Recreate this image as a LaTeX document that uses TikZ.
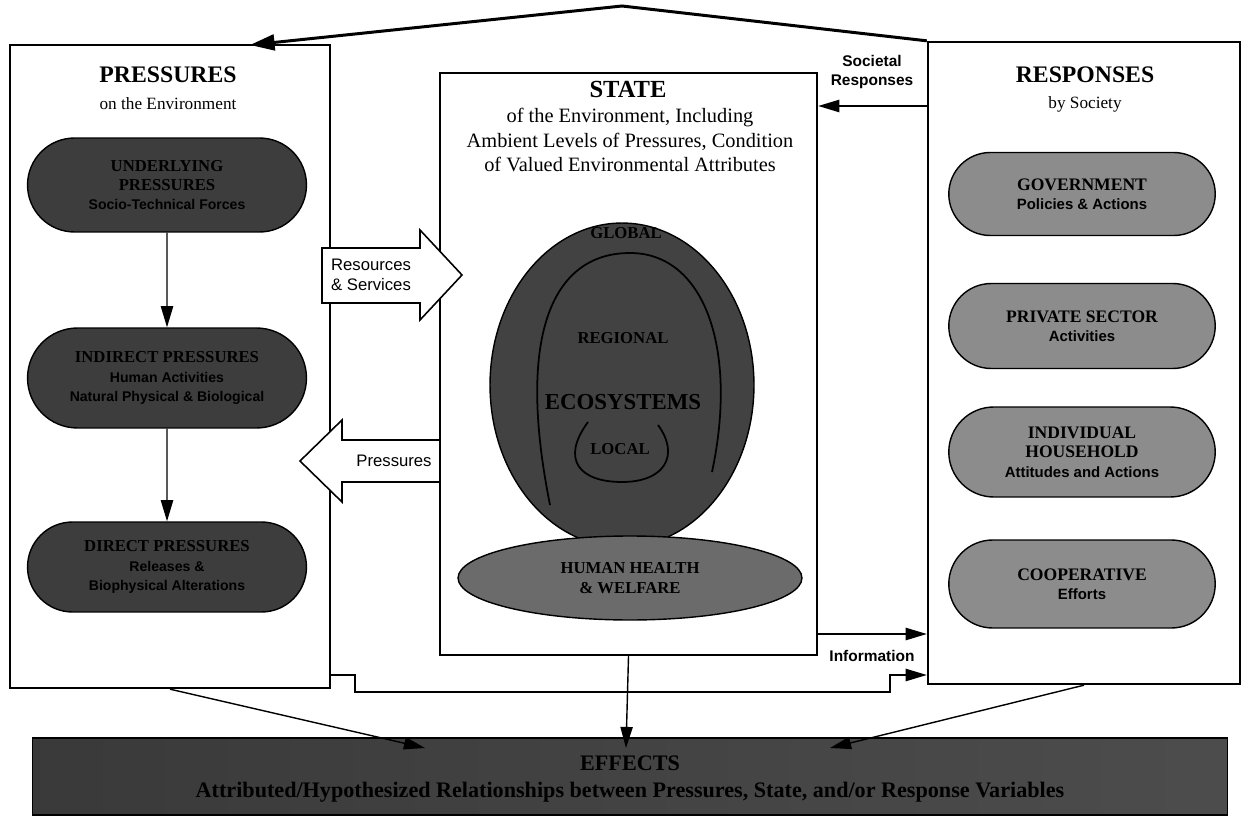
\documentclass[tikz,border=0pt]{standalone}
\usepackage{fontspec}
\setmainfont{Liberation Serif}
\newfontfamily\arialfont{Liberation Sans}
\usetikzlibrary{shapes.misc,shapes.geometric,arrows.meta,calc}
\definecolor{pilldark}{gray}{0.24}
\definecolor{pilllight}{gray}{0.55}
\definecolor{ecodark}{gray}{0.26}
\definecolor{hhgray}{gray}{0.42}
\newcommand\subl[1]{{\arialfont\fontsize{8}{9.5}\selectfont #1}}
\newcommand\subr[1]{{\arialfont\fontsize{8.5}{10}\selectfont #1}}
\begin{document}
\begin{tikzpicture}[x=0.02cm,y=-0.02cm,
  bigbox/.style={draw=black, line width=1.4pt, fill=white, rectangle, inner sep=0pt},
  darkpill/.style={rounded rectangle, draw=black, line width=0.8pt, fill=pilldark,
     minimum width=5.65cm, align=center, text=black, inner sep=1pt,
     font=\bfseries\fontsize{9.5}{11}\selectfont},
  lightpill/.style={rounded rectangle, draw=black, line width=0.8pt, fill=pilllight,
     minimum width=5.4cm, align=center, text=black, inner sep=1pt,
     font=\bfseries\fontsize{10}{11}\selectfont},
  title/.style={font=\bfseries\fontsize{13.5}{15}\selectfont, inner sep=0pt},
  subtitle/.style={font=\fontsize{9.8}{12}\selectfont, inner sep=0pt},
  conn/.style={-{Triangle[length=12pt,width=7pt]}, line width=0.8pt},
  toparrow/.style={-{Triangle[length=14pt,width=9pt]}, line width=1.7pt},
  blockarrow/.style={draw=black, line width=0.9pt, fill=white},
  lbl/.style={font=\arialfont\fontsize{9.5}{11}\selectfont, align=center, inner sep=0pt},
  lblb/.style={font=\arialfont\bfseries\fontsize{8.8}{11}\selectfont, align=center, inner sep=0pt}
]
\useasboundingbox (0,0) rectangle (1250,827);

% main boxes
\node[bigbox, minimum width=6.4cm, minimum height=12.86cm] (pres) at (170,366.5) {};
\node[bigbox, minimum width=7.54cm, minimum height=11.64cm] (state) at (628.5,364) {};
\node[bigbox, minimum width=6.24cm, minimum height=12.84cm] (resp) at (1084,363) {};
\node[rectangle, draw=black, line width=0.6pt, left color=gray!45!black, right color=gray!60!black,
      minimum width=23.92cm, minimum height=1.54cm, inner sep=0pt] (eff) at (630,776.5) {};

% titles
\node[title] (presT) at (168,75) {PRESSURES};
\node[subtitle] (presS) at (168,104) {on the Environment};
\node[title, font=\bfseries\fontsize{14}{15}\selectfont] (stateT) at (628,89) {STATE};
\node[subtitle, align=center, font=\fontsize{11.6}{14.2}\selectfont] (stateS) at (630,140)
  {of the Environment, Including\\Ambient Levels of Pressures, Condition\\of Valued Environmental Attributes};
\node[title] (respT) at (1085,75) {RESPONSES};
\node[subtitle] (respS) at (1085,104) {by Society};

% pressures pills
\node[darkpill, minimum height=1.88cm] (p1) at (167,185)
  {UNDERLYING\\PRESSURES\\\subl{Socio-Technical Forces}};
\node[darkpill, minimum height=2.0cm] (p2) at (167,378)
  {INDIRECT PRESSURES\\\subl{Human Activities}\\\subl{Natural Physical \& Biological}};
\node[darkpill, minimum height=1.8cm] (p3) at (167,567)
  {DIRECT PRESSURES\\\subl{Releases \&}\\\subl{Biophysical Alterations}};
\draw[conn] (p1) -- (p2);
\draw[conn] (p2) -- (p3);

% response pills
\node[lightpill, minimum height=1.66cm] (gov) at (1082,194)
  {GOVERNMENT\\\subr{Policies \& Actions}};
\node[lightpill, minimum height=1.7cm] (priv) at (1082,326)
  {PRIVATE SECTOR\\\subr{Activities}};
\node[lightpill, minimum height=1.8cm] (indiv) at (1082,452)
  {INDIVIDUAL\\HOUSEHOLD\\\subr{Attitudes and Actions}};
\node[lightpill, minimum height=1.76cm] (coop) at (1082,584)
  {COOPERATIVE\\\subr{Efforts}};

% state ellipses
\node[ellipse, draw=black, line width=0.8pt, fill=ecodark, minimum width=5.28cm, minimum height=6.48cm, inner sep=0pt] (eco) at (622,385) {};
\node[ellipse, draw=black, line width=0.8pt, fill=hhgray, minimum width=6.88cm, minimum height=1.68cm, inner sep=0pt, align=center,
      font=\bfseries\fontsize{9.5}{11}\selectfont] (hh) at (630,578) {HUMAN HEALTH\\\& WELFARE};
\draw[line width=1pt] (550,505) .. controls (515,330) and (555,253) .. (630,253)
  .. controls (705,253) and (738,350) .. (712,472);
\draw[line width=1pt] (588,422) .. controls (560,460) and (580,482) .. (622,482)
  .. controls (665,482) and (680,455) .. (658,425);
\node[font=\bfseries\fontsize{9.5}{10}\selectfont, inner sep=0pt] (glob) at (626,233) {GLOBAL};
\node[font=\bfseries\fontsize{9.5}{10}\selectfont, inner sep=0pt] (reg) at (623,338) {REGIONAL};
\node[font=\bfseries\fontsize{13}{14}\selectfont, inner sep=0pt] (ecoT) at (623,402) {ECOSYSTEMS};
\node[font=\bfseries\fontsize{9.5}{10}\selectfont, inner sep=0pt] (loc) at (620,449) {LOCAL};

% block arrows
\draw[blockarrow] (322,248) -- (420,248) -- (420,230) -- (462,275) -- (420,320) -- (420,303) -- (322,303) -- cycle;
\node[lbl] (resL) at (371,275) {Resources\\\& Services};
\draw[blockarrow] (440,440) -- (342,440) -- (342,420) -- (300,461) -- (342,502) -- (342,482) -- (440,482) -- cycle;
\node[lbl] (presL) at (394,461) {Pressures};

% top feedback arrow
\coordinate (apex) at (622,6);
\coordinate (presTop) at (250,45);
\draw[toparrow] (resp.north west) -- (apex) -- (presTop);

% societal responses
\coordinate (socY) at (0,106);
\draw[conn] (resp.west |- socY) -- (state.east |- socY);
\node[lblb] (socL) at (872,72) {Societal\\Responses};

% information
\coordinate (infY) at (0,634);
\draw[conn] (state.east |- infY) -- (resp.west |- infY);
\node[lblb] (infL) at (872,656) {Information};
\coordinate (r1) at (355,675);
\coordinate (r2) at (890,675);
\draw[conn] (pres.east |- r1) -- (r1) -- ++(0,17) -| (r2) -- (resp.west |- r2);

% to effects
\coordinate (e1) at (425,748);
\coordinate (e2) at (626,748);
\coordinate (e3) at (830,748);
\draw[conn] (pres.south) -- (e1);
\draw[conn] (state.south) -- (e2);
\draw[conn] (resp.south) -- (e3);

% effects text
\node[font=\bfseries\fontsize{12.6}{15.5}\selectfont, align=center, text=black, inner sep=0pt] (effT) at (630,779)
  {EFFECTS\\Attributed/Hypothesized Relationships between Pressures, State, and/or Response Variables};
\end{tikzpicture}
\end{document}
